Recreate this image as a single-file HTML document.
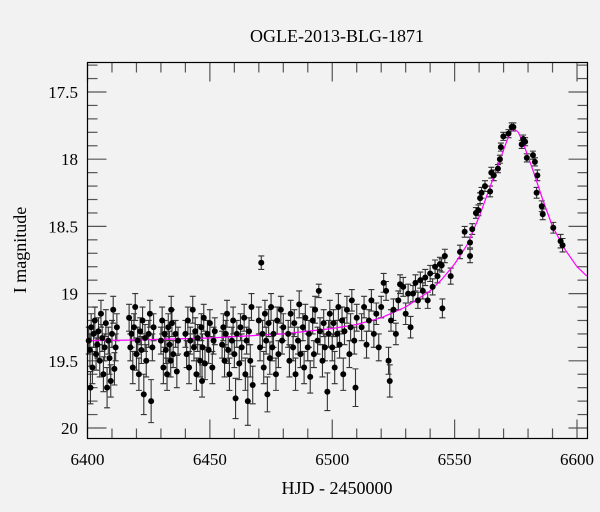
<!DOCTYPE html>
<html><head><meta charset="utf-8"><style>
html,body{margin:0;padding:0;background:#f2f2f2;}
svg{display:block;font-family:"Liberation Serif",serif;}
</style></head><body>
<svg id="chart" width="600" height="512" viewBox="0 0 600 512">
<rect x="0" y="0" width="600" height="512" fill="#f2f2f2"/>
<text x="337" y="42" text-anchor="middle" font-size="18" fill="#000">OGLE-2013-BLG-1871</text>
<text x="337" y="494" text-anchor="middle" font-size="18" fill="#000">HJD - 2450000</text>
<text transform="translate(26,250) rotate(-90)" text-anchor="middle" font-size="18" fill="#000">I magnitude</text>
<g id="ticks"></g>
<g id="errs"></g>
<g id="model"></g>
<g id="pts"></g>
<rect x="87.5" y="62.5" width="500" height="376" fill="none" stroke="#000" stroke-width="1.2"/>
</svg>
<script>
const xTicks = [6400, 6450, 6500, 6550, 6600];
const yTicks = [17.5, 18, 18.5, 19, 19.5, 20];
const yTickLabels = ["17.5", "18", "18.5", "19", "19.5", "20"];
const modelT = [6400,6420,6450,6480,6500,6510,6520,6530,6540,6545,6550,6555,6560,6565,6570,6572,6574,6576,6578,6582,6586,6590,6595,6600,6604];
const modelM = [19.35,19.345,19.33,19.30,19.26,19.23,19.18,19.10,18.98,18.89,18.78,18.64,18.43,18.18,17.93,17.83,17.77,17.80,17.88,18.08,18.30,18.50,18.67,18.80,18.87];
const obs = [
[6400.5,19.35,.1],[6401,19.42,.12],[6401.5,19.25,.1],[6402,19.55,.12],[6402.5,19.3,.1],[6403,19.2,.1],[6403.5,19.45,.12],[6404,19.38,.1],[6404.5,19.28,.1],[6405,19.5,.12],[6405.5,19.15,.1],[6406,19.33,.1],[6406.5,19.6,.13],[6407,19.4,.1],[6407.5,19.22,.1],[6408,19.7,.15],[6408.5,19.35,.1],[6409,19.48,.12],[6410,19.3,.1],[6410.5,19.12,.1],[6411,19.56,.12],[6411.5,19.4,.1],[6412,19.25,.1],[6401.2,19.7,.12],[6409.5,19.65,.12],
[6417,19.18,.1],[6417.5,19.4,.1],[6418,19.3,.1],[6418.5,19.55,.12],[6419,19.25,.1],[6419.5,19.1,.1],[6420,19.45,.12],[6420.5,19.35,.1],[6421,19.6,.12],[6421.5,19.28,.1],[6422,19.42,.1],[6422.5,19.2,.1],[6423,19.75,.15],[6423.5,19.33,.1],[6424,19.5,.12],[6425,19.3,.1],[6425.5,19.15,.1],[6426,19.8,.16],[6426.5,19.4,.1],[6427,19.25,.1],
[6430,19.35,.1],[6430.5,19.2,.1],[6431,19.55,.12],[6431.5,19.3,.1],[6432,19.42,.1],[6432.5,19.6,.12],[6433,19.25,.1],[6433.5,19.38,.1],[6434,19.5,.12],[6434.5,19.22,.1],[6435,19.45,.1],[6436,19.3,.1],[6436.5,19.58,.12],[6437,19.35,.1],[6434.2,19.12,.1],
[6440,19.3,.1],[6440.5,19.45,.1],[6441,19.2,.1],[6441.5,19.55,.12],[6442,19.35,.1],[6443,19.12,.1],[6443.5,19.4,.1],[6444,19.28,.1],[6444.5,19.6,.12],[6445,19.33,.1],[6446,19.5,.12],[6446.5,19.25,.1],[6447,19.4,.1],[6447.5,19.18,.1],[6448,19.52,.12],[6449,19.3,.1],[6449.5,19.42,.1],[6450,19.22,.1],[6451,19.55,.12],[6451.5,19.35,.1],[6452,19.28,.1],[6446.8,19.65,.12],
[6455,19.38,.1],[6455.5,19.25,.1],[6456,19.5,.12],[6456.5,19.3,.1],[6457,19.15,.1],[6457.5,19.42,.1],[6458,19.6,.12],[6459,19.35,.1],[6459.5,19.2,.1],[6460,19.45,.1],[6460.5,19.78,.15],[6461,19.3,.1],[6462,19.52,.12],[6462.5,19.25,.1],[6463,19.4,.1],[6464,19.18,.1],[6464.5,19.6,.12],[6465,19.35,.1],[6465.5,19.8,.18],[6466,19.28,.1],[6466.5,19.5,.12],[6467,19.1,.1],[6467.5,19.68,.14],
[6470,19.2,.1],[6470.5,19.4,.1],[6471,18.77,.05],[6471.5,19.3,.1],[6472,19.55,.12],[6472.5,19.15,.1],[6473,19.35,.1],[6474,19.22,.1],[6474.5,19.48,.12],[6475,19.1,.1],[6475.5,19.4,.1],[6476,19.3,.1],[6477,19.6,.12],[6477.5,19.2,.1],[6478,19.45,.1],[6479,19.12,.1],[6479.5,19.35,.1],[6480,19.25,.1],[6473.5,19.75,.13],
[6482,19.3,.1],[6482.5,19.5,.12],[6483,19.15,.1],[6484,19.4,.1],[6484.5,19.22,.1],[6485,19.6,.12],[6486,19.35,.1],[6486.5,19.08,.1],[6487,19.45,.1],[6488,19.25,.1],[6488.5,19.55,.12],[6489,19.18,.1],[6490,19.4,.1],[6490.5,19.3,.1],[6491,19.62,.12],[6492,19.2,.1],[6492.5,19.45,.1],[6493,19.12,.1],[6494,19.35,.1],[6494.5,18.98,.05],[6495,19.28,.1],[6496,19.5,.12],[6496.5,19.22,.1],[6497,19.4,.1],
[6498,19.73,.14],[6498.5,19.3,.1],[6499,19.15,.1],[6500,19.4,.1],[6500.5,19.22,.1],[6501,19.55,.12],[6502,19.3,.1],[6502.5,19.1,.1],[6503,19.38,.1],[6504,19.2,.1],[6504.5,19.6,.12],[6505,19.28,.1],[6506,19.12,.1],[6507,19.45,.1],[6507.5,19.25,.1],[6508,19.05,.08],[6509,19.35,.1],[6509.5,19.7,.14],[6510,19.18,.1],
[6512,19.25,.1],[6513,19.1,.08],[6514,19.38,.1],[6515,19.2,.08],[6516,19.05,.08],[6517,19.3,.1],[6518,19.15,.08],[6519,19.4,.1],[6520,19.1,.08],[6521,18.92,.07],[6522,18.98,.07],[6523,19.5,.1],[6523.5,19.65,.12],[6524,19.2,.08],[6525,19.12,.08],[6526,19.3,.08],[6527,19.05,.07],[6527.7,18.93,.07],[6529,18.95,.07],[6530,19.15,.08],[6531,19.0,.07],[6532,19.25,.08],
[6533,19.0,.06],[6534,18.92,.06],[6535,19.05,.06],[6536,18.9,.06],[6537,18.98,.06],[6538,18.88,.06],[6539,19.05,.06],[6540,18.85,.06],[6541,18.95,.06],[6542,18.8,.05],[6543,18.87,.05],[6544,18.78,.05],[6545,19.11,.07],[6544.7,18.79,.05],[6546,18.72,.05],[6548.4,18.87,.06],
[6552.2,18.69,.05],[6554.1,18.54,.04],[6556.3,18.62,.04],[6556.3,18.72,.05],[6557.2,18.52,.04],[6558.7,18.40,.04],[6559.7,18.38,.04],[6560.4,18.29,.04],[6561,18.25,.04],[6562.4,18.2,.04],[6564.5,18.24,.04],[6565,18.1,.04],[6566,18.12,.04],[6567.7,18.07,.03],[6568.5,18.0,.03],[6568.9,17.91,.03],[6569.9,17.83,.03],[6572,17.81,.03],[6573.3,17.76,.03],[6574,17.76,.03],
[6577.4,17.89,.03],[6578,17.85,.03],[6578.8,17.87,.03],[6579.5,17.99,.03],[6582,17.97,.03],[6582.8,18.02,.03],[6583.8,18.12,.04],[6583.5,18.25,.04],[6585.6,18.35,.04],[6586,18.41,.04],[6590.3,18.51,.04],[6593.3,18.61,.05],[6594.1,18.64,.05]
];
const NS='http://www.w3.org/2000/svg';
const X0=87.5, X1=587.5, Y0=62.5, Y1=438.5;
function xs(t){return 87.5 + (t-6400)*(577-87.5)/200;}
function ys(m){return 92 + (m-17.5)*134.4;}
function mk(tag, attrs, parent){const e=document.createElementNS(NS,tag);for(const k in attrs)e.setAttribute(k,attrs[k]);parent.appendChild(e);return e;}
const tg=document.getElementById('ticks');
for(let t=6400;t<=6600;t+=10){
  const major = xTicks.indexOf(t)>=0;
  const L = major?19:10;
  const x=xs(t);
  const a=mk('line',{x1:x,y1:Y1,x2:x,y2:Y1-L,stroke:'#555','stroke-width':1.2},tg);
  
  
  const b=mk('line',{x1:x,y1:Y0,x2:x,y2:Y0+L,stroke:'#555','stroke-width':1.2},tg);
  
  
}
xTicks.forEach(t=>{
  const tx=mk('text',{x:xs(t),y:465,'text-anchor':'middle','font-size':17,fill:'#000'},tg);
  tx.textContent=String(t);
  
  
});
for(let i=173;i<=200;i++){
  const m=i/10;
  const major = (i%5===0);
  const L = major?19:10;
  const y=ys(m);
  if(y<Y0||y>Y1) continue;
  const a=mk('line',{x1:X0,y1:y,x2:X0+L,y2:y,stroke:'#555','stroke-width':1.2},tg);
  
  
  const b=mk('line',{x1:X1,y1:y,x2:X1-L,y2:y,stroke:'#555','stroke-width':1.2},tg);
  
  
}
yTicks.forEach((m,i)=>{
  const tx=mk('text',{x:78,y:ys(m)+6,'text-anchor':'end','font-size':17,fill:'#000'},tg);
  tx.textContent=yTickLabels[i];
  
  
});
const eg=document.getElementById('errs'), pg=document.getElementById('pts');
obs.forEach(o=>{
  const x=xs(o[0]), y1=ys(o[1]-o[2]), y2=ys(o[1]+o[2]);
  const p=mk('path',{d:`M${x},${y1}V${y2}M${x-3},${y1}h6M${x-3},${y2}h6`,stroke:'#333','stroke-width':1.1,fill:'none'},eg);
  
  
});
let d='';
modelT.forEach((t,i)=>{d+=(i?'L':'M')+xs(t).toFixed(1)+','+ys(modelM[i]).toFixed(1);});
const ml=mk('path',{d:d,stroke:'#ff00ff','stroke-width':1.2,fill:'none','stroke-linejoin':'round'},document.getElementById('model'));


obs.forEach(o=>{
  const c=mk('circle',{cx:xs(o[0]),cy:ys(o[1]),r:3,fill:'#000'},pg);
  
  
});
</script>
</body></html>
